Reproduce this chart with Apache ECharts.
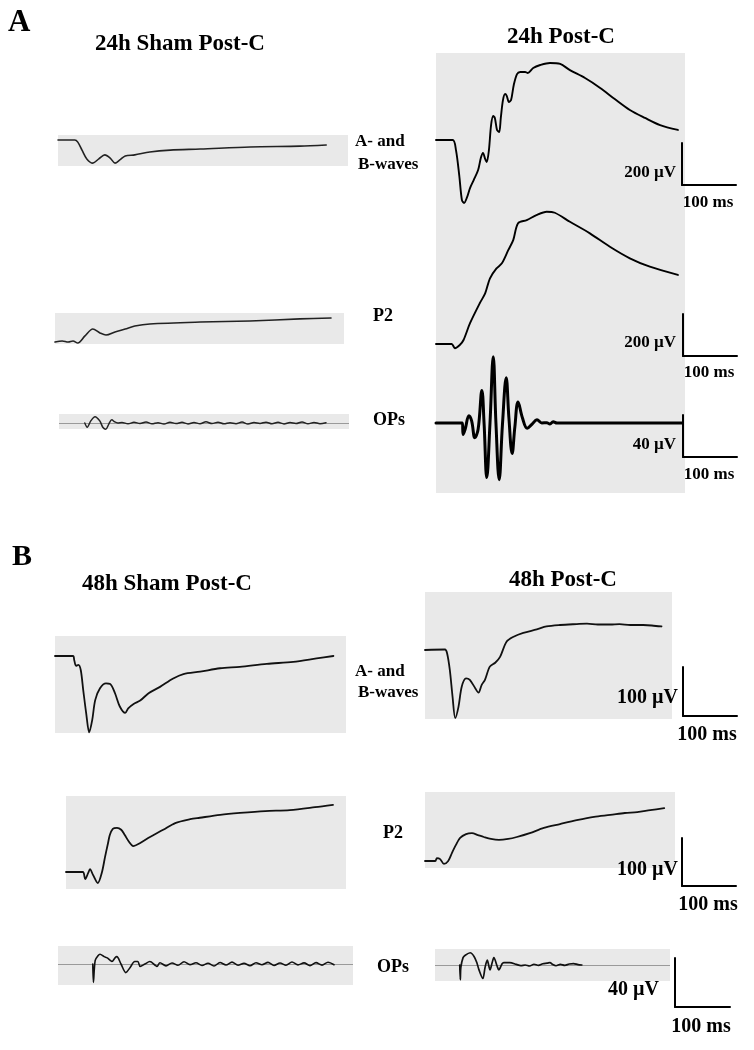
<!DOCTYPE html>
<html><head><meta charset="utf-8">
<script src="https://cdn.jsdelivr.net/npm/echarts@6/dist/echarts.min.js"></script>
<style>html,body{margin:0;padding:0;background:#fff}#c{width:754px;height:1050px}</style>
</head><body><div id="c"></div><script>
// ---------- DATA (time in ms, voltage in µV) ----------
// Panel A – 24h Sham Post-C
const shamA_ab_t = [0,28,33,40,48,58,68,78,87,95,103,112,128,153,187,237,320,403,447];
const shamA_ab_v = [0,0,-10,-48,-90,-110,-90,-71,-86,-110,-95,-76,-71,-57,-48,-43,-33,-29,-24];
const shamA_p2_t = [0,12,22,30,38,50,63,75,85,100,117,133,158,242,325,408,460];
const shamA_p2_v = [0,5,0,5,-5,29,62,43,33,48,62,76,86,95,100,110,114];
const shamA_ops_t = [43,47,53,60,68,73,78,83,88,93,98,105,115,125,135,145,155,165,175,185,195,205,215,225,235,245,255,265,275,285,295,305,315,325,335,345,355,365,375,385,395,405,415,425,435,445];
const shamA_ops_v = [0,-4,2,6,2,-4,-6,-1,3,1,0,0.5,-0.8,0.6,-0.4,1.0,-0.7,0.3,-1.0,0.8,-0.5,0.6,-0.9,0.4,-0.6,1.1,-0.5,0.7,-0.8,0.3,-0.6,0.9,-1.0,0.5,-0.4,0.8,-0.7,0.6,-0.9,0.4,-0.5,1.0,-0.8,0.5,-0.6,0.3];
// Panel A – 24h Post-C
const postA_ab_t = [0,31,37,43,48,52,57,63,70,78,83,87,91,94,98,102,106,109,113,117,120,124,128,131,135,139,144,150,156,165,170,180,193,211,230,248,276,304,331,359,387,415,448];
const postA_ab_v = [0,0,-48,-167,-286,-300,-276,-229,-190,-143,-86,-62,-90,-105,-48,71,114,105,48,38,105,190,219,210,181,190,262,314,324,324,319,343,357,367,362,333,295,248,195,143,105,71,48];
const postA_p2_t = [0,29,35,44,51,63,81,91,100,112,122,134,143,152,168,186,205,220,248,285,322,359,396,448];
const postA_p2_v = [0,0,-20,-5,19,99,194,241,313,360,384,448,495,575,590,614,630,625,582,527,463,408,368,329];
const postA_ops_t = [0,49,50,54,61,66,72,78,85,89,94,100,106,111,117,123,130,135,141,146,152,160,169,178,187,196,205,211,217,224,456];
const postA_ops_v = [0,0,-11,-6,7,2,-14,-6,31,0,-52,0,63,0,-54,-2,43,5,-29,-4,20,5,-5,-1,3,0,0.3,-1,1.2,0,0];
// Panel B – 48h Sham Post-C
const shamB_ab_t = [0,30,32,35,39,43,47,52,57,62,67,75,85,92,100,108,117,122,131,142,156,175,197,214,242,275,308,353,397,436,464];
const shamB_ab_v = [0,0,-8,-20,-18,-29,-69,-117,-156,-131,-90,-66,-56,-57,-76,-103,-116,-107,-98,-91,-76,-63,-46,-37,-32,-25,-22,-16,-12,-5,0];
const shamB_p2_t = [0,28,32,37,40,45,53,60,65,70,73,78,85,92,98,105,112,123,140,162,182,207,223,257,290,332,373,415,445];
const shamB_p2_v = [0,0,-15,-2,6,-6,-23,0,31,60,77,90,92,88,77,63,54,60,73,88,102,110,113,119,123,127,129,135,140];
const shamB_ops_t = [58,59,62,67,70,77,82,87,90,95,98,105,113,120,128,133,137,145,153,162,165,170,180,190,200,210,220,230,240,250,260,270,280,290,300,310,320,330,340,350,360,370,380,390,400,410,420,430,440,450,460];
const shamB_ops_v = [0,-15,3,7,8,6,5,3,2,5,6,0,-7,-3,2,2,-2,0,2,-1,-2,1,-1.5,0.8,-1,1.8,-0.5,1,-1.2,0.6,-1.6,1.2,-0.8,1.5,-1,0.5,-1.4,1,-0.6,1.3,-1.2,0.8,-1,1.6,-0.7,0.9,-1.3,1.1,-0.9,1.4,-0.6];
// Panel B – 48h Post-C
const postB_ab_t = [0,37,41,46,51,56,62,68,76,83,93,99,105,111,120,130,139,151,164,182,207,225,250,281,300,320,343,360,380,404,420,438];
const postB_ab_v = [0,1,-7,-41,-95,-139,-116,-75,-58,-61,-78,-87,-71,-61,-34,-26,-14,17,27,35,42,48,51,53,54,52,52,53,51,51,50,48];
const postB_p2_t = [0,19,22,28,35,43,50,57,65,76,87,98,109,122,137,154,170,194,220,250,281,313,343,370,393,417,443];
const postB_p2_v = [0,0,6,4,-6,0,17,33,48,56,58,54,50,46,44,46,50,58,69,77,85,92,96,100,102,106,110];
const postB_ops_t = [45,46,47,51,55,64,71,76,80,87,91,95,98,100,104,107,113,116,122,125,136,148,156,164,172,180,188,196,204,209,214,220,228,236,244,252,260,267];
const postB_ops_v = [0,-12,-2,6,8,10,7,2,-4,-11,-2,4,-1,-4,2,6,-1,-4,1,2,2,0.5,-0.5,0,-0.8,0.6,-0.3,1,1.5,2,0.4,-0.6,0.5,-0.3,0.8,1.2,0.3,0];

// ---------- LAYOUT ----------
const BG = '#e9e9e9';
const FONT = '"Liberation Serif","Times New Roman",serif';
const grids = [], xAxes = [], yAxes = [], series = [], texts = [];

function trace(box, x0, y0, pxMs, pxUv, t, v, color, width, bg, baseline, smooth) {
  const i = grids.length;
  grids.push({left: box[0], top: box[1], width: box[2]-box[0], height: box[3]-box[1],
    show: !!bg, backgroundColor: BG, borderWidth: 0});
  xAxes.push({type:'value', gridIndex:i, min:(box[0]-x0)/pxMs, max:(box[2]-x0)/pxMs, show:false});
  yAxes.push({type:'value', gridIndex:i, min:(y0-box[3])/pxUv, max:(y0-box[1])/pxUv, show:false});
  if (t) {
    const s = {type:'line', xAxisIndex:i, yAxisIndex:i, data: t.map((x,k)=>[x, v[k]]),
      showSymbol:false, symbol:'none', clip:false, silent:true, z:5,
      smooth: smooth == null ? 0.3 : smooth,
      lineStyle:{color: color, width: width, join:'round', cap:'round'}};
    if (baseline) s.markLine = {silent:true, symbol:'none', label:{show:false},
      lineStyle:{color:'#9a9a9a', width:1, type:'solid'}, data:[{yAxis:0}]};
    series.push(s);
  }
}
function bgBox(box) { trace(box, box[0], box[1], 1, 1, null, null, null, 0, true); }
function bar(x, yBottom, ms, uv, pxMs, pxUv) {
  const i = grids.length;
  grids.push({left:x, top:yBottom-uv*pxUv, width:ms*pxMs, height:uv*pxUv, show:false});
  const line = {show:true, onZero:false, lineStyle:{color:'#000', width:2}};
  xAxes.push({type:'value', gridIndex:i, min:0, max:ms, axisLine:line, axisTick:{show:false}, axisLabel:{show:false}, splitLine:{show:false}});
  yAxes.push({type:'value', gridIndex:i, min:0, max:uv, axisLine:line, axisTick:{show:false}, axisLabel:{show:false}, splitLine:{show:false}});
}
function txt(s, x, y, size, align) {
  texts.push({type:'text', x:x, y:y, z:10, silent:true,
    style:{text:s, font:'bold '+size+'px '+FONT, fill:'#000',
      align:align||'left', verticalAlign:'middle', textAlign:align||'left', textVerticalAlign:'middle'}});
}

// Panel A sham
trace([58,135,348,166], 58, 140, 0.6, 0.21, shamA_ab_t, shamA_ab_v, '#222', 1.6, true);
trace([55,313,344,344], 55, 342, 0.6, 0.21, shamA_p2_t, shamA_p2_v, '#222', 1.6, true);
trace([59,414,349,429], 59, 423, 0.6, 1.05, shamA_ops_t, shamA_ops_v, '#222', 1.5, true, true, 0.3);
// Panel A post-C (one shared background)
bgBox([436,53,685,493]);
trace([436,53,685,215], 436, 140, 0.54, 0.21, postA_ab_t, postA_ab_v, '#000', 1.9, false);
trace([436,205,685,360], 436, 344, 0.54, 0.21, postA_p2_t, postA_p2_v, '#000', 1.9, false);
trace([436,345,685,493], 436, 423, 0.54, 1.05, postA_ops_t, postA_ops_v, '#000', 3, false, false, 0.4);
bar(682, 185, 100, 200, 0.54, 0.21);
bar(683, 356, 100, 200, 0.54, 0.21);
bar(683, 457, 100, 40, 0.54, 1.05);
// Panel B sham
trace([55,636,346,733], 55, 656, 0.6, 0.49, shamB_ab_t, shamB_ab_v, '#111', 1.8, true);
trace([66,796,346,889], 66, 872, 0.6, 0.48, shamB_p2_t, shamB_p2_v, '#111', 1.8, true);
trace([58,946,353,985], 58, 964, 0.6, 1.225, shamB_ops_t, shamB_ops_v, '#111', 1.6, true, true, 0.3);
// Panel B post-C
trace([425,592,672,719], 425, 650, 0.54, 0.49, postB_ab_t, postB_ab_v, '#111', 1.8, true);
trace([425,792,675,868], 425, 861, 0.54, 0.48, postB_p2_t, postB_p2_v, '#111', 1.8, true);
trace([435,949,670,981], 435, 965, 0.55, 1.225, postB_ops_t, postB_ops_v, '#111', 1.7, true, true, 0.3);
bar(683, 716, 100, 100, 0.54, 0.49);
bar(682, 886, 100, 100, 0.54, 0.48);
bar(675, 1007, 100, 40, 0.55, 1.225);

// Texts
txt('A', 8, 23, 31);
txt('24h Sham Post-C', 95, 44, 23);
txt('24h Post-C', 507, 37, 23);
txt('A- and', 355, 142, 17);
txt('B-waves', 358, 165, 17);
txt('P2', 373, 316, 18);
txt('OPs', 373, 420, 18);
txt('200 µV', 676, 173, 17, 'right');
txt('100 ms', 708, 203, 17, 'center');
txt('200 µV', 676, 343, 17, 'right');
txt('100 ms', 709, 373, 17, 'center');
txt('40 µV', 676, 445, 17, 'right');
txt('100 ms', 709, 475, 17, 'center');
txt('B', 12, 557, 30);
txt('48h Sham Post-C', 82, 584, 23);
txt('48h Post-C', 509, 580, 23);
txt('A- and', 355, 672, 17);
txt('B-waves', 358, 693, 17);
txt('P2', 383, 833, 18);
txt('OPs', 377, 967, 18);
txt('100 µV', 678, 698, 20, 'right');
txt('100 ms', 707, 735, 20, 'center');
txt('100 µV', 678, 870, 20, 'right');
txt('100 ms', 708, 905, 20, 'center');
txt('40 µV', 659, 990, 20, 'right');
txt('100 ms', 701, 1027, 20, 'center');

const chart = echarts.init(document.getElementById('c'), null, {renderer:'canvas'});
chart.setOption({
  animation:false,
  backgroundColor:'#fff',
  grid: grids, xAxis: xAxes, yAxis: yAxes, series: series,
  graphic: texts
});
</script></body></html>
